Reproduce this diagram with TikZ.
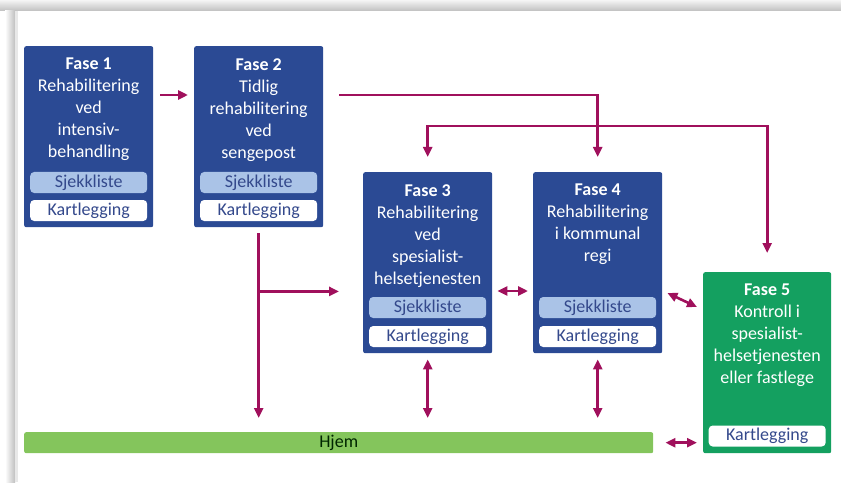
\documentclass[tikz,border=0pt]{standalone}
\usepackage{fontspec}
\setmainfont{Carlito}
\usetikzlibrary{arrows.meta,calc}
\definecolor{fblue}{HTML}{2B4A94}
\definecolor{fgreen}{HTML}{14A060}
\definecolor{hgreen}{HTML}{84C55C}
\definecolor{lblue}{HTML}{AAC3E7}
\definecolor{subtxt}{HTML}{34498C}
\definecolor{arr}{HTML}{A0105C}
\tikzset{
  phase/.style={fill=fblue, draw=none, rounded corners=2pt, minimum width=129pt, minimum height=181pt, anchor=north west, inner sep=0pt},
  phasegreen/.style={phase, fill=fgreen, minimum width=128pt},
  ptext/.style={anchor=north, align=center, text=white, inner sep=0pt, font=\fontsize{18}{22}\selectfont},
  sjekk/.style={fill=lblue, rounded corners=4pt, minimum width=117pt, minimum height=21pt, inner sep=0pt, text=subtxt, font=\fontsize{18}{22}\selectfont},
  kart/.style={sjekk, fill=white},
  conn/.style={draw=arr, line width=2.6pt, -{Triangle[length=10pt,width=9pt]}},
  dconn/.style={draw=arr, line width=2.6pt, {Triangle[length=10pt,width=9pt]}-{Triangle[length=10pt,width=9pt]}},
}
\begin{document}
\begin{tikzpicture}[x=1pt,y=-1pt]
\useasboundingbox (0,0) rectangle (841,484);
% frame shadow
\shade[top color=gray!8, bottom color=gray!50] (0,0) rectangle (841,11);
\shade[left color=white, right color=gray!50] (5,11) rectangle (15,482);
\fill[gray!18] (15,11) rectangle (18,482);

% phase boxes
\node[phase] (b1) at (24,46) {};
\node[phase] (b2) at (194,46) {};
\node[phase] (b3) at (363,172) {};
\node[phase] (b4) at (533,172) {};
\node[phasegreen] (b5) at (703,272) {};

\node[ptext] (t1) at ($(b1.north)+(0,12)$) {\textbf{Fase 1}\\Rehabilitering\\ved\\intensiv-\\behandling};
\node[ptext] (t2) at ($(b2.north)+(0,12)$) {\textbf{Fase 2}\\Tidlig\\rehabilitering\\ved\\sengepost};
\node[ptext] (t3) at ($(b3.north)+(0,12)$) {\textbf{Fase 3}\\Rehabilitering\\ved\\spesialist-\\helsetjenesten};
\node[ptext] (t4) at ($(b4.north)+(0,12)$) {\textbf{Fase 4}\\Rehabilitering\\i kommunal\\regi};
\node[ptext] (t5) at ($(b5.north)+(0,12)$) {\textbf{Fase 5}\\Kontroll i\\spesialist-\\helsetjenesten\\eller fastlege};

\node[sjekk] (s1) at ($(b1.north)+(0,136.5)$) {Sjekkliste};
\node[kart] (k1) at ($(b1.north)+(0,164.5)$) {Kartlegging};
\node[sjekk] (s2) at ($(b2.north)+(0,136.5)$) {Sjekkliste};
\node[kart] (k2) at ($(b2.north)+(0,164.5)$) {Kartlegging};
\node[sjekk] (s3) at ($(b3.north)+(0,135.5)$) {Sjekkliste};
\node[kart] (k3) at ($(b3.north)+(0,164.5)$) {Kartlegging};
\node[sjekk] (s4) at ($(b4.north)+(0,135.5)$) {Sjekkliste};
\node[kart] (k4) at ($(b4.north)+(0,164.5)$) {Kartlegging};
\node[kart] (k5) at ($(b5.north)+(0,164)$) {Kartlegging};

% Hjem bar
\node[fill=hgreen, rounded corners=2pt, minimum width=629pt, minimum height=21pt, inner sep=0pt, anchor=north west, text=black!85!green, font=\fontsize{18}{22}\selectfont] (hjem) at (24,432) {Hjem};

% connectors
\draw[conn] ($(b1.north east)+(7,49)$) -- ($(b2.north west)+(-6,49)$);
\draw[conn] ($(b2.north east)+(16,49)$) -| ($(b4.north)+(0,-15)$);
\draw[dconn] ($(b3.north)+(0,-15)$) |- ($(b5.north)+(0,-146)$) -- ($(b5.north)+(0,-19)$);
\draw[conn] ($(b2.south)+(0,6)$) -- ($(b2.south |- hjem.north)+(0,-14)$);
\coordinate (br) at ($(b2.south)+(0,64)$);
\draw[conn] (br) -- ($(b3.north west |- br)+(-24,0)$);
\draw[dconn] ($(b3.north east)+(5,119)$) -- ($(b4.north west)+(-5,119)$);
\draw[dconn] ($(b4.north east)+(5,121)$) -- ($(b5.north west)+(-6,35)$);
\draw[dconn] ($(b3.south)+(0,6)$) -- ($(b3.south |- hjem.north)+(0,-14)$);
\draw[dconn] ($(b4.south)+(0,6)$) -- ($(b4.south |- hjem.north)+(0,-14)$);
\draw[dconn] ($(hjem.east)+(12,0)$) -- ($(b5.west |- hjem.east)+(-6,0)$);
\end{tikzpicture}
\end{document}
